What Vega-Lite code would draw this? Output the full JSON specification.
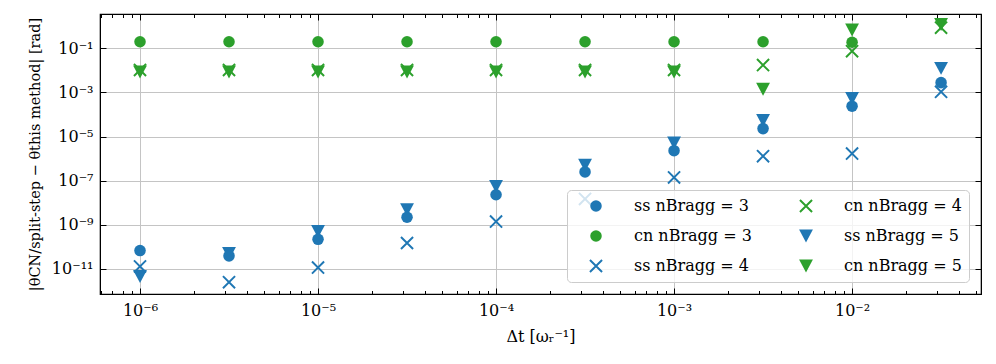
{
  "$schema": "https://vega.github.io/schema/vega-lite/v6.json",
  "autosize": {"type": "none"},
  "width": 881,
  "height": 280,
  "padding": {"left": 100, "top": 14, "right": 15, "bottom": 70},
  "background": "white",
  "config": {
    "font": "DejaVu Serif",
    "view": {"stroke": "black", "strokeWidth": 1.2},
    "axis": {"domainColor": "black", "tickColor": "black", "labelColor": "black", "titleColor": "black", "labelFont": "DejaVu Serif", "titleFont": "DejaVu Serif", "labelFontSize": 16, "titleFontSize": 16, "titleFontWeight": "normal", "gridColor": "#c4c4c4", "gridWidth": 1}
  },
  "data": {"values": [
    {"dt": 1e-6, "err": 4.5e-12, "series": "ss nBragg = 5"},
    {"dt": 3.162e-6, "err": 5e-11, "series": "ss nBragg = 5"},
    {"dt": 1e-5, "err": 5e-10, "series": "ss nBragg = 5"},
    {"dt": 3.162e-5, "err": 4.8e-9, "series": "ss nBragg = 5"},
    {"dt": 1e-4, "err": 5.5e-8, "series": "ss nBragg = 5"},
    {"dt": 3.162e-4, "err": 5e-7, "series": "ss nBragg = 5"},
    {"dt": 1e-3, "err": 5.1e-6, "series": "ss nBragg = 5"},
    {"dt": 3.162e-3, "err": 5.4e-5, "series": "ss nBragg = 5"},
    {"dt": 1e-2, "err": 5.3e-4, "series": "ss nBragg = 5"},
    {"dt": 3.162e-2, "err": 1.24e-2, "series": "ss nBragg = 5"},
    {"dt": 1e-6, "err": 0.0085, "series": "cn nBragg = 5"},
    {"dt": 3.162e-6, "err": 0.0085, "series": "cn nBragg = 5"},
    {"dt": 1e-5, "err": 0.0085, "series": "cn nBragg = 5"},
    {"dt": 3.162e-5, "err": 0.0085, "series": "cn nBragg = 5"},
    {"dt": 1e-4, "err": 0.0085, "series": "cn nBragg = 5"},
    {"dt": 3.162e-4, "err": 0.0085, "series": "cn nBragg = 5"},
    {"dt": 1e-3, "err": 0.0085, "series": "cn nBragg = 5"},
    {"dt": 3.162e-3, "err": 0.0014, "series": "cn nBragg = 5"},
    {"dt": 1e-2, "err": 0.68, "series": "cn nBragg = 5"},
    {"dt": 3.162e-2, "err": 1.2, "series": "cn nBragg = 5"},
    {"dt": 1e-6, "err": 1.3e-11, "series": "ss nBragg = 4"},
    {"dt": 3.162e-6, "err": 2.5e-12, "series": "ss nBragg = 4"},
    {"dt": 1e-5, "err": 1.15e-11, "series": "ss nBragg = 4"},
    {"dt": 3.162e-5, "err": 1.5e-10, "series": "ss nBragg = 4"},
    {"dt": 1e-4, "err": 1.4e-9, "series": "ss nBragg = 4"},
    {"dt": 3.162e-4, "err": 1.5e-8, "series": "ss nBragg = 4"},
    {"dt": 1e-3, "err": 1.4e-7, "series": "ss nBragg = 4"},
    {"dt": 3.162e-3, "err": 1.3e-6, "series": "ss nBragg = 4"},
    {"dt": 1e-2, "err": 1.7e-6, "series": "ss nBragg = 4"},
    {"dt": 3.162e-2, "err": 1.07e-3, "series": "ss nBragg = 4"},
    {"dt": 1e-6, "err": 0.0105, "series": "cn nBragg = 4"},
    {"dt": 3.162e-6, "err": 0.0105, "series": "cn nBragg = 4"},
    {"dt": 1e-5, "err": 0.0105, "series": "cn nBragg = 4"},
    {"dt": 3.162e-5, "err": 0.0105, "series": "cn nBragg = 4"},
    {"dt": 1e-4, "err": 0.0105, "series": "cn nBragg = 4"},
    {"dt": 3.162e-4, "err": 0.0105, "series": "cn nBragg = 4"},
    {"dt": 1e-3, "err": 0.0105, "series": "cn nBragg = 4"},
    {"dt": 3.162e-3, "err": 0.0175, "series": "cn nBragg = 4"},
    {"dt": 1e-2, "err": 0.075, "series": "cn nBragg = 4"},
    {"dt": 3.162e-2, "err": 0.87, "series": "cn nBragg = 4"},
    {"dt": 1e-6, "err": 6.8e-11, "series": "ss nBragg = 3"},
    {"dt": 3.162e-6, "err": 3.9e-11, "series": "ss nBragg = 3"},
    {"dt": 1e-5, "err": 2.2e-10, "series": "ss nBragg = 3"},
    {"dt": 3.162e-5, "err": 2.2e-9, "series": "ss nBragg = 3"},
    {"dt": 1e-4, "err": 2.3e-8, "series": "ss nBragg = 3"},
    {"dt": 3.162e-4, "err": 2.5e-7, "series": "ss nBragg = 3"},
    {"dt": 1e-3, "err": 2.3e-6, "series": "ss nBragg = 3"},
    {"dt": 3.162e-3, "err": 2.3e-5, "series": "ss nBragg = 3"},
    {"dt": 1e-2, "err": 2.4e-4, "series": "ss nBragg = 3"},
    {"dt": 3.162e-2, "err": 2.8e-3, "series": "ss nBragg = 3"},
    {"dt": 1e-6, "err": 0.2, "series": "cn nBragg = 3"},
    {"dt": 3.162e-6, "err": 0.2, "series": "cn nBragg = 3"},
    {"dt": 1e-5, "err": 0.2, "series": "cn nBragg = 3"},
    {"dt": 3.162e-5, "err": 0.2, "series": "cn nBragg = 3"},
    {"dt": 1e-4, "err": 0.2, "series": "cn nBragg = 3"},
    {"dt": 3.162e-4, "err": 0.2, "series": "cn nBragg = 3"},
    {"dt": 1e-3, "err": 0.2, "series": "cn nBragg = 3"},
    {"dt": 3.162e-3, "err": 0.2, "series": "cn nBragg = 3"},
    {"dt": 1e-2, "err": 0.19, "series": "cn nBragg = 3"}
  ]},
  "layer": [
    {
      "mark": {"type": "point", "filled": true, "opacity": 1, "size": 133},
      "encoding": {
        "x": {"field": "dt", "type": "quantitative",
          "scale": {"type": "log", "domain": [5.96e-7, 0.053], "nice": false},
          "axis": {"orient": "bottom", "title": "Δt [ωᵣ⁻¹]", "titlePadding": 8,
            "values": [6e-7,7e-7,8e-7,9e-7,1e-6,2e-6,3e-6,4e-6,5e-6,6e-6,7e-6,8e-6,9e-6,1e-5,2e-5,3e-5,4e-5,5e-5,6e-5,7e-5,8e-5,9e-5,1e-4,2e-4,3e-4,4e-4,5e-4,6e-4,7e-4,8e-4,9e-4,1e-3,2e-3,3e-3,4e-3,5e-3,6e-3,7e-3,8e-3,9e-3,1e-2,2e-2,3e-2,4e-2,5e-2],
            "labelExpr": "format(datum.value,'.0e') == '1e-6' ? '10⁻⁶' : format(datum.value,'.0e') == '1e-5' ? '10⁻⁵' : format(datum.value,'.0e') == '1e-4' ? '10⁻⁴' : format(datum.value,'.0e') == '1e-3' ? '10⁻³' : format(datum.value,'.0e') == '1e-2' ? '10⁻²' : ''",
            "tickSize": {"condition": {"test": "substring(format(datum.value,'.0e'),0,1) == '1'", "value": -6}, "value": -3.5},
            "gridOpacity": {"condition": {"test": "substring(format(datum.value,'.0e'),0,1) == '1'", "value": 1}, "value": 0},
            "labelPadding": 14, "labelFlush": false, "labelOverlap": false, "labelBound": false}},
        "y": {"field": "err", "type": "quantitative",
          "scale": {"type": "log", "domain": [7.3e-13, 3.62], "nice": false},
          "axis": {"orient": "left", "title": "|θCN/split-step − θthis method| [rad]", "titlePadding": 9, "titleFontSize": 14.5,
            "values": [1e-11, 1e-9, 1e-7, 1e-5, 1e-3, 1e-1],
            "labelExpr": "format(datum.value,'.0e') == '1e-11' ? '10⁻¹¹' : format(datum.value,'.0e') == '1e-9' ? '10⁻⁹' : format(datum.value,'.0e') == '1e-7' ? '10⁻⁷' : format(datum.value,'.0e') == '1e-5' ? '10⁻⁵' : format(datum.value,'.0e') == '1e-3' ? '10⁻³' : '10⁻¹'",
            "tickSize": -6, "labelPadding": 13, "labelFlush": false, "labelOverlap": false, "labelBound": false}},
        "color": {"field": "series", "type": "nominal",
          "scale": {"domain": ["ss nBragg = 3", "cn nBragg = 3", "ss nBragg = 4", "cn nBragg = 4", "ss nBragg = 5", "cn nBragg = 5"],
                    "range": ["#1f77b4", "#2ca02c", "#1f77b4", "#2ca02c", "#1f77b4", "#2ca02c"]},
          "legend": {"title": null, "orient": "none", "legendX": 467, "legendY": 176, "columns": 2,
            "fillColor": "rgba(255,255,255,0.8)", "strokeColor": "#cccccc", "cornerRadius": 4, "padding": 7,
            "symbolSize": 133, "symbolOffset": 14, "labelOffset": 30, "labelFontSize": 16, "labelFont": "DejaVu Serif", "labelColor": "black",
            "rowPadding": 12, "clipHeight": 18, "columnPadding": 32, "symbolStrokeWidth": 0, "labelLimit": 300}},
        "shape": {"field": "series", "type": "nominal",
          "scale": {"domain": ["ss nBragg = 3", "cn nBragg = 3", "ss nBragg = 4", "cn nBragg = 4", "ss nBragg = 5", "cn nBragg = 5"],
                    "range": ["circle", "circle",
                      "M-0.93,-1.17L1.17,0.93L0.93,1.17L-1.17,-0.93Z M0.93,-1.17L1.17,-0.93L-0.93,1.17L-1.17,0.93Z",
                      "M-0.93,-1.17L1.17,0.93L0.93,1.17L-1.17,-0.93Z M0.93,-1.17L1.17,-0.93L-0.93,1.17L-1.17,0.93Z",
                      "M-1.2,-1.12L1.2,-1.12L0,1.12Z", "M-1.2,-1.12L1.2,-1.12L0,1.12Z"]},
          "legend": null}
      }
    },
    {
      "mark": {"type": "point", "opacity": 0},
      "encoding": {
        "x": {"field": "dt", "type": "quantitative",
          "axis": {"orient": "top", "title": null, "labels": false, "grid": false,
            "values": [6e-7,7e-7,8e-7,9e-7,1e-6,2e-6,3e-6,4e-6,5e-6,6e-6,7e-6,8e-6,9e-6,1e-5,2e-5,3e-5,4e-5,5e-5,6e-5,7e-5,8e-5,9e-5,1e-4,2e-4,3e-4,4e-4,5e-4,6e-4,7e-4,8e-4,9e-4,1e-3,2e-3,3e-3,4e-3,5e-3,6e-3,7e-3,8e-3,9e-3,1e-2,2e-2,3e-2,4e-2,5e-2],
            "tickSize": {"condition": {"test": "substring(format(datum.value,'.0e'),0,1) == '1'", "value": -6}, "value": -3.5}}},
        "y": {"field": "err", "type": "quantitative",
          "axis": {"orient": "right", "title": null, "labels": false, "grid": false,
            "values": [1e-11, 1e-9, 1e-7, 1e-5, 1e-3, 1e-1], "tickSize": -6}}
      }
    }
  ],
  "resolve": {"axis": {"x": "independent", "y": "independent"}}
}
